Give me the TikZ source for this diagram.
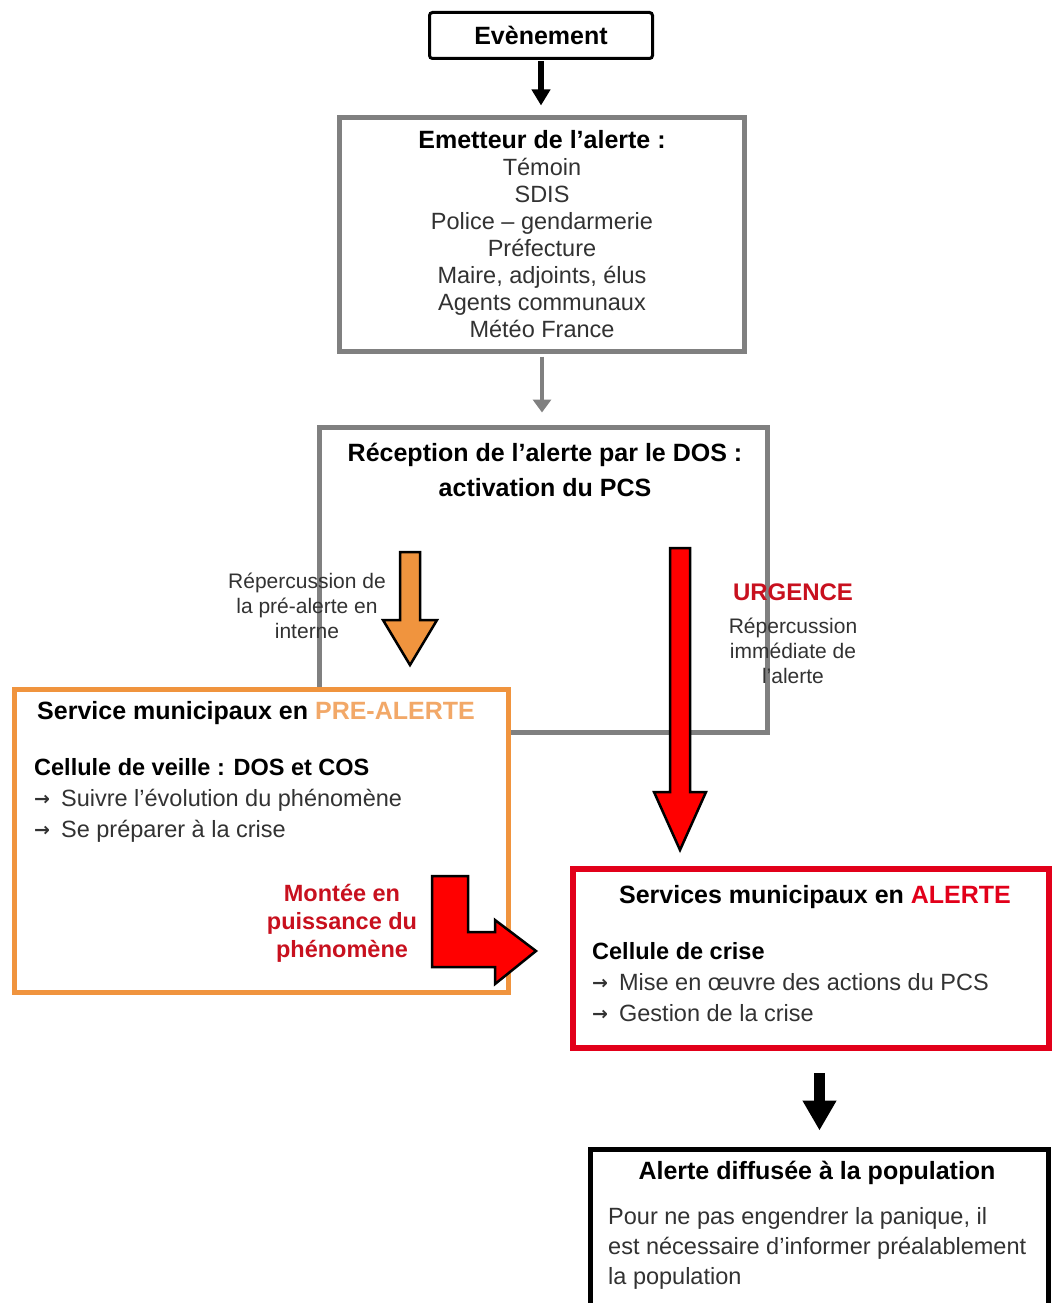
\documentclass[tikz,border=0pt]{standalone}
\usepackage{fontspec}
\setmainfont{Liberation Sans}
\newfontfamily\symfont{DejaVu Sans}
\usetikzlibrary{arrows.meta,positioning,calc}
\definecolor{boxgray}{RGB}{128,128,128}
\definecolor{preorange}{RGB}{240,148,62}
\definecolor{pretext}{RGB}{242,168,104}
\definecolor{alertred}{RGB}{226,0,26}
\definecolor{darkred}{RGB}{200,16,30}
\definecolor{bodytxt}{RGB}{50,50,50}
\newcommand{\itm}{\raisebox{0.5pt}{\symfont\fontsize{19}{19}\selectfont\bfseries →}\hspace{11pt}}

\begin{document}
\begin{tikzpicture}[x=1pt, y=-1pt,
  box/.style={draw, line width=5pt, inner sep=0pt, fill=white},
  title/.style={font=\fontsize{25}{35}\selectfont\bfseries, align=center, inner sep=0pt},
  body/.style={font=\fontsize{23.5}{27}\selectfont, text=bodytxt, align=center, inner sep=0pt},
  listtxt/.style={font=\fontsize{23.5}{31}\selectfont, text=bodytxt, align=left, inner sep=0pt, anchor=west},
  small/.style={font=\fontsize{21}{25}\selectfont, text=bodytxt, align=center, inner sep=0pt},
  redlbl/.style={font=\fontsize{23.5}{28}\selectfont\bfseries, text=darkred, align=center, inner sep=0pt},
  thinarr/.style={-{Triangle[width=18pt,length=16pt]}, line width=6pt},
  blockarr/.style={draw=black, line width=2.5pt, line join=miter}
]
\useasboundingbox (0,0) rectangle (1052,1303);

% boxes
\node[draw, line width=3pt, rounded corners=3pt, minimum width=223, minimum height=46, title] (even) at (541,35.5) {Evènement};
\node[box, draw=boxgray, minimum width=405, minimum height=234, body] (emet) at (542,234.5)
  {\textcolor{black}{\bfseries\fontsize{25}{27}\selectfont Emetteur de l'alerte :}\\Témoin\\SDIS\\Police – gendarmerie\\Préfecture\\Maire, adjoints, élus\\Agents communaux\\Météo France};
\node[box, draw=boxgray, minimum width=448, minimum height=305] (recep) at (543.5,580) {};
\node[title] (recepT) at (545,470) {Réception de l'alerte par le DOS :\\activation du PCS};

\node[box, draw=preorange, minimum width=494, minimum height=303] (pre) at (261.5,841) {};
\node[title, anchor=west] (preT) at (37,713) {Service municipaux en \textcolor{pretext}{PRE-ALERTE}};
\node[listtxt] (preL) at (34,800) {\textcolor{black}{\bfseries Cellule de veille : DOS et COS}\\\itm Suivre l'évolution du phénomène\\\itm Se préparer à la crise};

\node[box, draw=alertred, line width=6pt, minimum width=476, minimum height=179] (alerte) at (811,958.5) {};
\node[title] (alerteT) at (815,897) {Services municipaux en \textcolor{alertred}{ALERTE}};
\node[listtxt] (alerteL) at (592,982) {\textcolor{black}{\bfseries Cellule de crise}\\\itm Mise en œuvre des actions du PCS\\\itm Gestion de la crise};

\node[box, draw=black, minimum width=458, minimum height=170] (diff) at (819.5,1234.5) {};
\node[title] (diffT) at (817,1173) {Alerte diffusée à la population};
\node[listtxt, font=\fontsize{23.5}{30}\selectfont] (diffL) at (608,1248) {Pour ne pas engendrer la panique, il\\est nécessaire d'informer préalablement\\la population};

% connectors
\draw[thinarr, shorten <=1.5pt, shorten >=9.5pt] (even.south) -- (even.south |- emet.north);
\draw[boxgray, line width=4pt, -{Triangle[width=18pt,length=13pt]}, shorten <=2.5pt, shorten >=12.5pt] (emet.south) -- (emet.south |- recep.north);
\draw[line width=11pt, -{Triangle[width=32pt,length=30pt]}, shorten <=22pt, shorten >=16.5pt] (alerte.south -| diff.north) -- (diff.north);

% block arrows
\coordinate (preArr) at (410,552);
\filldraw[blockarr, fill=preorange] (preArr) ++(-10,0) -- ++(20,0) -- ++(0,68) -- ++(17,0) -- ++(-27,45) -- ++(-27,-45) -- ++(17,0) -- cycle;
\coordinate (urgArr) at (680,548);
\filldraw[blockarr, fill=red] (urgArr) ++(-10,0) -- ++(20,0) -- ++(0,244) -- ++(16,0) -- ++(-26,58) -- ++(-26,-58) -- ++(16,0) -- cycle;
\coordinate (monArr) at (432,876);
\filldraw[blockarr, fill=red] (monArr) -- ++(36,0) -- ++(0,56) -- ++(27,0) -- ++(0,-12) -- ++(41,31) -- ++(-41,33) -- ++(0,-17) -- ++(-63,0) -- cycle;

% labels
\node[small] (repInt) at (307,606) {Répercussion de\\la pré-alerte en\\interne};
\node[redlbl, font=\fontsize{24}{28}\selectfont\bfseries] (urg) at (793,592) {URGENCE};
\node[small] (repImm) at (793,651) {Répercussion\\immédiate de\\l'alerte};
\node[redlbl] (mont) at (342,923) {Montée en\\puissance du\\phénomène};
\end{tikzpicture}
\end{document}
